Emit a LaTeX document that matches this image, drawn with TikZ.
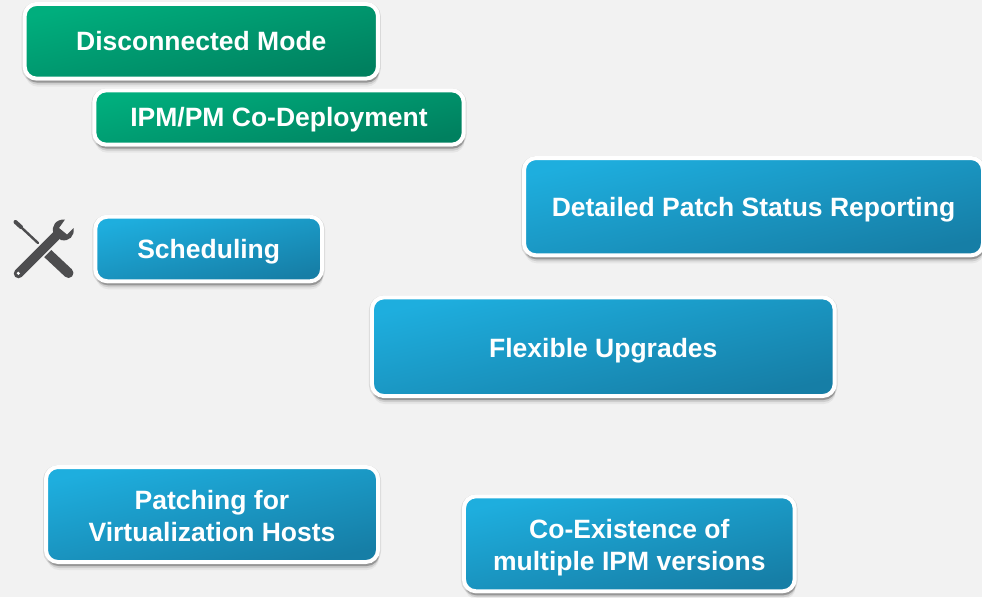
\documentclass[tikz,border=0pt]{standalone}
\usepackage{fontspec}
\setmainfont{Liberation Sans}
\usetikzlibrary{shadows}
\definecolor{hintergrund}{RGB}{242,242,242}
\definecolor{hellgruen}{RGB}{0,174,125}
\definecolor{dunkelgruen}{RGB}{0,128,95}
\definecolor{hellblau}{RGB}{30,174,222}
\definecolor{dunkelblau}{RGB}{22,126,166}
\definecolor{werkzeug}{RGB}{77,77,79}
\tikzset{
  softshadow/.style={
    general shadow={shadow xshift=1pt, shadow yshift=-8pt, fill=black, opacity=0.05},
    general shadow={shadow xshift=1pt, shadow yshift=-6pt, fill=black, opacity=0.1},
    general shadow={shadow xshift=1pt, shadow yshift=-4pt, fill=black, opacity=0.18},
    general shadow={shadow xshift=0.5pt, shadow yshift=-2pt, fill=black, opacity=0.28},
    general shadow={shadow yshift=-1pt, draw=black, line width=6pt, opacity=0.1}},
  knopf/.style={draw=white, line width=4pt, rounded corners=12pt, softshadow,
    text=white, align=center, inner sep=0pt,
    font=\fontsize{26.5}{32}\selectfont\bfseries},
  gruenknopf/.style={knopf, top color=hellgruen, bottom color=dunkelgruen, shading angle=13},
  blauknopf/.style={knopf, top color=hellblau, bottom color=dunkelblau, shading angle=13},
  grundlinie/.style={text depth=4pt, text height=#1},
  griff/.style={draw=werkzeug, line cap=round}
}
\begin{document}
\begin{tikzpicture}[x=1pt, y=-1pt]
\useasboundingbox[fill=hintergrund] (0,0) rectangle (982,597);

% green boxes
\node[gruenknopf, grundlinie=22.8pt, minimum width=353.3pt, minimum height=74.7pt] (disconnected) at (201.3, 41.3) {Disconnected Mode};
\node[gruenknopf, grundlinie=22.4pt, minimum width=369.4pt, minimum height=54.4pt] (codeploy) at (279, 117.5) {IPM/PM Co-Deployment};

% blue boxes
\node[blauknopf, grundlinie=23.4pt, minimum width=226.7pt, minimum height=64.6pt] (scheduling) at (208.7, 249) {Scheduling};
\node[blauknopf, grundlinie=24pt, minimum width=459pt, minimum height=97.3pt] (reporting) at (753.5, 206.7) {Detailed Patch Status Reporting};
\node[blauknopf, grundlinie=26pt, minimum width=462.7pt, minimum height=98.7pt] (upgrades) at (603.3, 346.7) {Flexible Upgrades};
\node[blauknopf, grundlinie=57pt, minimum width=332pt, minimum height=95pt] (patching) at (212, 514.5) {Patching for\\Virtualization Hosts};
\node[blauknopf, grundlinie=56.4pt, minimum width=330.7pt, minimum height=95pt] (coexist) at (629.3, 543.8) {Co-Existence of\\multiple IPM versions};

% tools
\draw[griff, line width=2.4pt] (15,221.5) -- (38,243);
\draw[griff, line width=4pt] (15.5,222) -- (21,227);
\draw[griff, line width=10pt] (45,251) -- (68.5,273);
\draw[hintergrund, line width=13pt] (33,259) -- (52,240);
\draw[griff, line width=9.5pt] (18.5,273.5) -- (58,234);
\fill[werkzeug] (65,219.5) .. controls (56,219) and (51,226) .. (53.5,233)
  -- (61,240) .. controls (69,242) and (75,236) .. (73.5,228)
  -- (67,234.5) -- (59,228) -- cycle;
\fill[white] (18.3,273.3) circle [radius=1.7];
\end{tikzpicture}
\end{document}
